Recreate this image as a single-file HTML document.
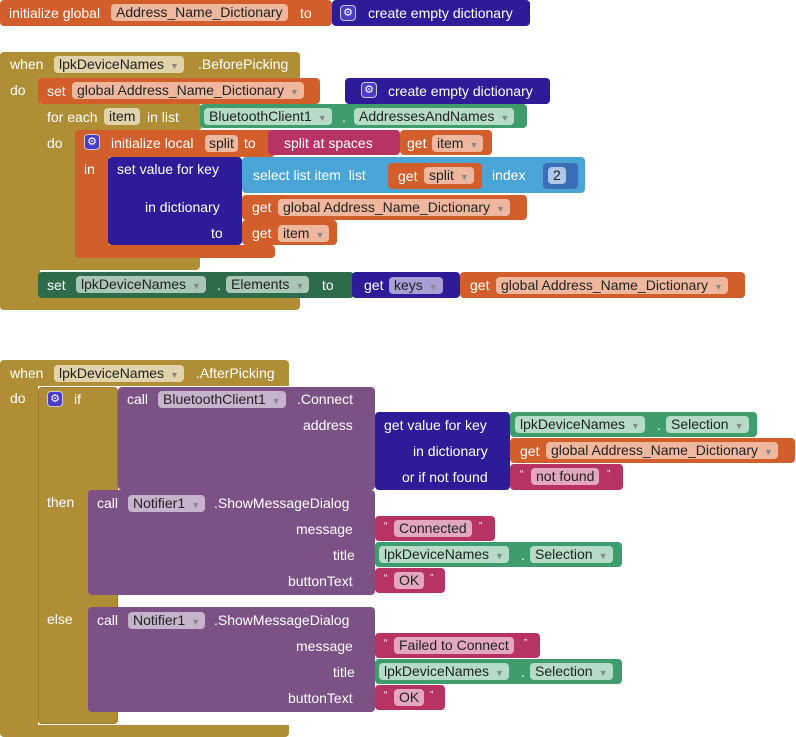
<!DOCTYPE html>
<html><head><meta charset="utf-8"><style>
body{margin:0;width:796px;height:737px;background:#fff;position:relative;overflow:hidden;font-family:"Liberation Sans",sans-serif;font-size:14px;color:#fff}
.r{position:absolute;border-radius:4px}
.t{position:absolute;white-space:nowrap;line-height:18px}
.p{position:absolute;white-space:nowrap;line-height:17px;height:17px;padding:0 5px;border-radius:4px;color:#222;font-size:14px}
.o{background:#d25e2b}.g{background:#b08e36}.i{background:#2d1b97}.lb{background:#4aa5d6}.m{background:#b73363}.gr{background:#3f9c6c}.dg{background:#2e6b4b}.pu{background:#7b5186}
.po{background:#efb89e}.pg{background:#e1d3ac}.pgr{background:#b5dcc7}.pdg{background:#aac6b6}.pi{background:#a99ed6}.pm{background:#e3a8bf}.ppu{background:#c6b3cc}.pb{background:#b0c8e8}
.ar{font-size:9px;color:#888;margin-left:6px}
</style></head><body>
<!-- top -->
<div class="r o" style="left:0;top:0;width:332px;height:26px"></div>
<div class="t" style="left:9px;top:4px">initialize global</div>
<div class="p po" style="left:111px;top:4px">Address_Name_Dictionary</div>
<div class="t" style="left:300px;top:4px">to</div>
<div class="r i" style="left:332px;top:0;width:198px;height:26px"></div>
<div class="r" style="left:340px;top:5px;width:16px;height:16px;background:#4a3cc8;border:1px solid #ccc;box-sizing:border-box;font-size:11px;text-align:center;line-height:14px">⚙</div>
<div class="t" style="left:368px;top:4px">create empty dictionary</div>

<!-- event 1 -->
<div class="r g" style="left:0;top:52px;width:300px;height:28px"></div>
<div class="r g" style="left:0;top:52px;width:40px;height:258px"></div>
<div class="r g" style="left:0;top:296px;width:300px;height:14px"></div>
<div class="t" style="left:10px;top:55px">when</div>
<div class="p pg" style="left:54px;top:56px">lpkDeviceNames<span class="ar">▼</span></div>
<div class="t" style="left:198px;top:55px">.BeforePicking</div>
<div class="t" style="left:10px;top:81px">do</div>

<div class="r o" style="left:38px;top:78px;width:282px;height:26px"></div>
<div class="t" style="left:47px;top:82px">set</div>
<div class="p po" style="left:72px;top:82px">global Address_Name_Dictionary<span class="ar">▼</span></div>
<div class="t" style="left:320px;top:82px">to</div>
<div class="r i" style="left:345px;top:78px;width:205px;height:26px"></div>
<div class="r" style="left:361px;top:82px;width:16px;height:16px;background:#4a3cc8;border:1px solid #ccc;box-sizing:border-box;font-size:11px;text-align:center;line-height:14px">⚙</div>
<div class="t" style="left:388px;top:82px">create empty dictionary</div>

<div class="r g" style="left:38px;top:104px;width:164px;height:26px"></div>
<div class="r g" style="left:38px;top:104px;width:40px;height:166px"></div>
<div class="r g" style="left:38px;top:258px;width:162px;height:12px;border-radius:0 0 4px 4px"></div>
<div class="t" style="left:47px;top:108px">for each</div>
<div class="p pg" style="left:104px;top:108px">item</div>
<div class="t" style="left:147px;top:108px">in list</div>
<div class="t" style="left:47px;top:134px">do</div>
<div class="r gr" style="left:200px;top:104px;width:327px;height:24px"></div>
<div class="p pgr" style="left:204px;top:108px">BluetoothClient1<span class="ar">▼</span></div>
<div class="t" style="left:342px;top:108px">.</div>
<div class="p pgr" style="left:354px;top:108px">AddressesAndNames<span class="ar">▼</span></div>

<div class="r o" style="left:75px;top:130px;width:200px;height:27px"></div>
<div class="r o" style="left:75px;top:130px;width:34px;height:128px"></div>
<div class="r o" style="left:75px;top:245px;width:200px;height:13px"></div>
<div class="r" style="left:84px;top:134px;width:16px;height:16px;background:#4a3cc8;border:1px solid #ccc;box-sizing:border-box;font-size:11px;text-align:center;line-height:14px">⚙</div>
<div class="t" style="left:111px;top:134px">initialize local</div>
<div class="p po" style="left:205px;top:135px;padding:0 4px">split</div>
<div class="t" style="left:244px;top:134px">to</div>
<div class="t" style="left:84px;top:160px">in</div>
<div class="r m" style="left:268px;top:130px;width:132px;height:25px"></div>
<div class="t" style="left:284px;top:134px">split at spaces</div>
<div class="r o" style="left:400px;top:130px;width:92px;height:25px"></div>
<div class="t" style="left:407px;top:134px">get</div>
<div class="p po" style="left:432px;top:135px">item<span class="ar">▼</span></div>

<div class="r i" style="left:108px;top:157px;width:134px;height:88px"></div>
<div class="t" style="left:117px;top:160px">set value for key</div>
<div class="t" style="left:145px;top:198px">in dictionary</div>
<div class="t" style="left:211px;top:224px">to</div>
<div class="r lb" style="left:242px;top:157px;width:343px;height:36px"></div>
<div class="t" style="left:253px;top:166px">select list item&nbsp; list</div>
<div class="r o" style="left:388px;top:163px;width:94px;height:26px"></div>
<div class="t" style="left:398px;top:167px">get</div>
<div class="p po" style="left:424px;top:167px">split<span class="ar">▼</span></div>
<div class="t" style="left:492px;top:166px">index</div>
<div class="r" style="left:543px;top:163px;width:35px;height:26px;background:#3a6fb8"></div>
<div class="p pb" style="left:548px;top:167px">2</div>
<div class="r o" style="left:242px;top:195px;width:285px;height:25px"></div>
<div class="t" style="left:252px;top:198px">get</div>
<div class="p po" style="left:278px;top:199px">global Address_Name_Dictionary<span class="ar">▼</span></div>
<div class="r o" style="left:242px;top:220px;width:95px;height:25px"></div>
<div class="t" style="left:252px;top:224px">get</div>
<div class="p po" style="left:278px;top:225px">item<span class="ar">▼</span></div>

<div class="r dg" style="left:38px;top:272px;width:316px;height:26px"></div>
<div class="t" style="left:47px;top:276px">set</div>
<div class="p pdg" style="left:76px;top:276px">lpkDeviceNames<span class="ar">▼</span></div>
<div class="t" style="left:217px;top:276px">.</div>
<div class="p pdg" style="left:226px;top:276px">Elements<span class="ar">▼</span></div>
<div class="t" style="left:322px;top:276px">to</div>
<div class="r i" style="left:352px;top:272px;width:108px;height:26px"></div>
<div class="t" style="left:364px;top:276px">get</div>
<div class="p pi" style="left:389px;top:277px">keys<span class="ar">▼</span></div>
<div class="r o" style="left:460px;top:272px;width:285px;height:26px"></div>
<div class="t" style="left:470px;top:276px">get</div>
<div class="p po" style="left:496px;top:277px">global Address_Name_Dictionary<span class="ar">▼</span></div>

<!-- event 2 -->
<div class="r g" style="left:0;top:360px;width:289px;height:377px"></div>
<div class="r" style="left:38px;top:386px;width:260px;height:339px;background:#fff;border-radius:0"></div>
<div class="t" style="left:10px;top:364px">when</div>
<div class="p pg" style="left:54px;top:365px">lpkDeviceNames<span class="ar">▼</span></div>
<div class="t" style="left:196px;top:364px">.AfterPicking</div>
<div class="t" style="left:10px;top:389px">do</div>

<div class="r g" style="left:38px;top:387px;width:80px;height:337px;border:1px solid #9a7a2a;box-sizing:border-box"></div>
<div class="r" style="left:47px;top:391px;width:16px;height:16px;background:#4a3cc8;border:1px solid #ccc;box-sizing:border-box;font-size:11px;text-align:center;line-height:14px">⚙</div>
<div class="t" style="left:74px;top:390px">if</div>
<div class="t" style="left:47px;top:493px">then</div>
<div class="t" style="left:47px;top:610px">else</div>

<div class="r pu" style="left:118px;top:387px;width:257px;height:103px"></div>
<div class="t" style="left:127px;top:390px">call</div>
<div class="p ppu" style="left:158px;top:391px">BluetoothClient1<span class="ar">▼</span></div>
<div class="t" style="left:297px;top:390px">.Connect</div>
<div class="t" style="left:303px;top:416px">address</div>
<div class="r i" style="left:375px;top:412px;width:135px;height:78px"></div>
<div class="t" style="left:384px;top:416px">get value for key</div>
<div class="t" style="left:413px;top:442px">in dictionary</div>
<div class="t" style="left:402px;top:468px">or if not found</div>
<div class="r gr" style="left:510px;top:412px;width:247px;height:25px"></div>
<div class="p pgr" style="left:515px;top:416px">lpkDeviceNames<span class="ar">▼</span></div>
<div class="t" style="left:657px;top:416px">.</div>
<div class="p pgr" style="left:666px;top:416px">Selection<span class="ar">▼</span></div>
<div class="r o" style="left:510px;top:438px;width:285px;height:25px"></div>
<div class="t" style="left:520px;top:442px">get</div>
<div class="p po" style="left:546px;top:442px">global Address_Name_Dictionary<span class="ar">▼</span></div>
<div class="r m" style="left:510px;top:464px;width:113px;height:26px"></div>
<div class="t" style="left:520px;top:466px;font-size:10px">“</div>
<div class="p pm" style="left:531px;top:468px">not found</div>
<div class="t" style="left:607px;top:466px;font-size:10px">”</div>

<div class="r pu" style="left:88px;top:490px;width:287px;height:105px"></div>
<div class="t" style="left:97px;top:494px">call</div>
<div class="p ppu" style="left:128px;top:495px">Notifier1<span class="ar">▼</span></div>
<div class="t" style="left:214px;top:494px">.ShowMessageDialog</div>
<div class="t" style="left:296px;top:520px">message</div>
<div class="t" style="left:333px;top:546px">title</div>
<div class="t" style="left:288px;top:572px">buttonText</div>
<div class="r m" style="left:375px;top:516px;width:120px;height:25px"></div>
<div class="t" style="left:384px;top:518px;font-size:10px">“</div>
<div class="p pm" style="left:394px;top:520px">Connected</div>
<div class="t" style="left:479px;top:518px;font-size:10px">”</div>
<div class="r gr" style="left:375px;top:542px;width:247px;height:25px"></div>
<div class="p pgr" style="left:379px;top:546px">lpkDeviceNames<span class="ar">▼</span></div>
<div class="t" style="left:521px;top:546px">.</div>
<div class="p pgr" style="left:530px;top:546px">Selection<span class="ar">▼</span></div>
<div class="r m" style="left:375px;top:568px;width:70px;height:25px"></div>
<div class="t" style="left:384px;top:570px;font-size:10px">“</div>
<div class="p pm" style="left:394px;top:572px">OK</div>
<div class="t" style="left:430px;top:570px;font-size:10px">”</div>

<div class="r pu" style="left:88px;top:607px;width:287px;height:105px"></div>
<div class="t" style="left:97px;top:611px">call</div>
<div class="p ppu" style="left:128px;top:612px">Notifier1<span class="ar">▼</span></div>
<div class="t" style="left:214px;top:611px">.ShowMessageDialog</div>
<div class="t" style="left:296px;top:637px">message</div>
<div class="t" style="left:333px;top:663px">title</div>
<div class="t" style="left:288px;top:689px">buttonText</div>
<div class="r m" style="left:375px;top:633px;width:165px;height:25px"></div>
<div class="t" style="left:384px;top:635px;font-size:10px">“</div>
<div class="p pm" style="left:394px;top:637px">Failed to Connect</div>
<div class="t" style="left:524px;top:635px;font-size:10px">”</div>
<div class="r gr" style="left:375px;top:659px;width:247px;height:25px"></div>
<div class="p pgr" style="left:379px;top:663px">lpkDeviceNames<span class="ar">▼</span></div>
<div class="t" style="left:521px;top:663px">.</div>
<div class="p pgr" style="left:530px;top:663px">Selection<span class="ar">▼</span></div>
<div class="r m" style="left:375px;top:685px;width:70px;height:25px"></div>
<div class="t" style="left:384px;top:687px;font-size:10px">“</div>
<div class="p pm" style="left:394px;top:689px">OK</div>
<div class="t" style="left:430px;top:687px;font-size:10px">”</div>
</body></html>
